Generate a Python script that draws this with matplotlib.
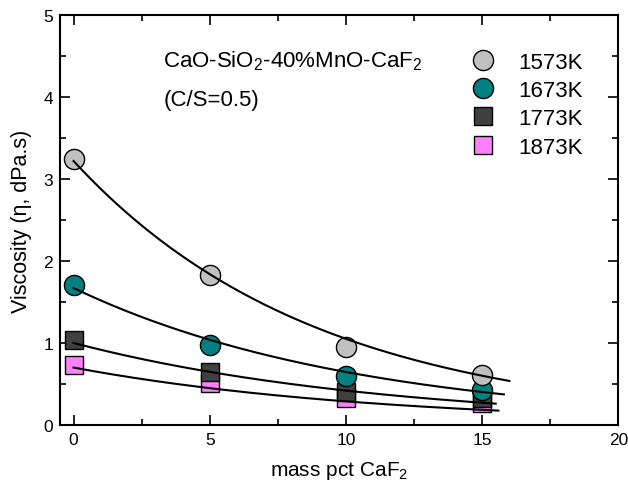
import numpy as np
import matplotlib
matplotlib.use("Agg")
from matplotlib import pyplot as plt

plt.rcParams['font.family'] = ['Liberation Sans', 'DejaVu Sans']
plt.rcParams['mathtext.fontset'] = 'custom'
plt.rcParams['mathtext.rm'] = 'Liberation Sans'

# measured data, mass pct CaF2 vs viscosity (dPa.s)
caf2 = [0, 5, 10, 15]
labels = ["1573K", "1673K", "1773K", "1873K"]
visc_1573 = [3.25, 1.83, 0.95, 0.61]
visc_1673 = [1.71, 0.98, 0.60, 0.43]
visc_1773 = [1.04, 0.64, 0.40, 0.33]
visc_1873 = [0.73, 0.51, 0.33, 0.27]

# exponential fit lines y = a*exp(-b*x), drawn from 0 to x_end
fit_a = [3.22, 1.67, 1.00, 0.70]
fit_b = [0.112, 0.095, 0.087, 0.089]
fit_end = [16.0, 15.8, 15.5, 15.6]

markers = ['o', 'o', 's', 's']
colors = ['#c0c0c0', '#008080', '#404040', '#ff80ff']
sizes = [14.5, 14.5, 13, 13]

fig = plt.figure(figsize=(6.28, 4.89), dpi=100)
ax = fig.add_axes([0.0955, 0.129, 0.889, 0.838])

series = [visc_1573, visc_1673, visc_1773, visc_1873]
for i in range(4):
    xf = np.linspace(0, fit_end[i], 200)
    ax.plot(xf, fit_a[i] * np.exp(-fit_b[i] * xf), color='black', lw=1.5, zorder=5)

# draw last series first so the hotter ones sit underneath
for i in reversed(range(4)):
    ax.plot(caf2, series[i], linestyle='none', marker=markers[i], ms=sizes[i],
            mfc=colors[i], mec='black', mew=1.0, label=labels[i], zorder=3 + (3 - i) * 0.1)

handles, labs = ax.get_legend_handles_labels()
ax.legend(handles[::-1], labs[::-1], loc='upper left', frameon=False, fontsize=16,
          bbox_to_anchor=(0.734, 0.911), handletextpad=1.0, labelspacing=0.33,
          handlelength=1.2, borderpad=0, borderaxespad=0)

ax.text(0.185, 0.889, "CaO-SiO$_2$-40%MnO-CaF$_2$", transform=ax.transAxes,
        fontsize=16, va='center', ha='left')
ax.text(0.185, 0.795, "(C/S=0.5)", transform=ax.transAxes,
        fontsize=16, va='center', ha='left')

ax.set_xlim(-0.5, 20)
ax.set_ylim(0, 5)
ax.set_xticks([0, 5, 10, 15, 20])
ax.set_xticks([2.5, 7.5, 12.5, 17.5], minor=True)
ax.set_yticks([0, 1, 2, 3, 4, 5])
ax.set_yticks([0.5, 1.5, 2.5, 3.5, 4.5], minor=True)
ax.tick_params(which='both', direction='in', top=True, right=True, width=1.2, labelsize=12.5)
ax.tick_params(which='major', length=7, pad=5)
ax.tick_params(which='minor', length=4)
for s in ax.spines.values():
    s.set_linewidth(1.5)

ax.set_xlabel("mass pct CaF$_2$", fontsize=15, labelpad=9)
ax.set_ylabel("Viscosity (η, dPa.s)", fontsize=15.5, labelpad=8)

fig.savefig("out.png", dpi=100)
